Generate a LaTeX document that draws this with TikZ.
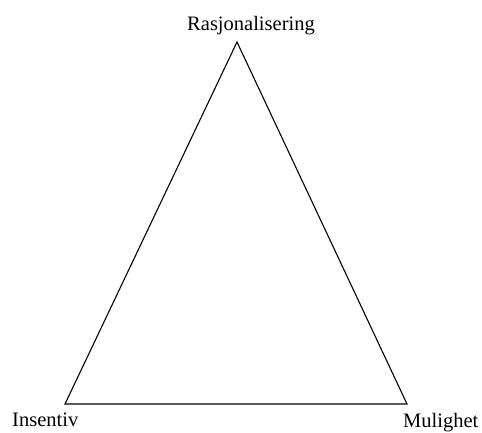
\documentclass[tikz,border=0pt]{standalone}
\usepackage{fontspec}
\setmainfont{Liberation Serif}
\begin{document}
\begin{tikzpicture}[x=1pt,y=-1pt,
  lbl/.style={inner sep=0pt,font=\fontsize{20.5}{24}\selectfont},
  edge/.style={draw=black,line width=1.1pt,line join=miter}]
\useasboundingbox (0,0) rectangle (482,432);
\coordinate (top) at (237,42);
\coordinate (bl) at (65,404);
\coordinate (br) at (407,404);
\draw[edge] (top) -- (bl) -- (br) -- cycle;
\node[lbl,anchor=base] (r) at (251,30) {Rasjonalisering};
\node[lbl,anchor=base west] (i) at (12,426) {Insentiv};
\node[lbl,anchor=base west] (m) at (403,427) {Mulighet};
\end{tikzpicture}
\end{document}
